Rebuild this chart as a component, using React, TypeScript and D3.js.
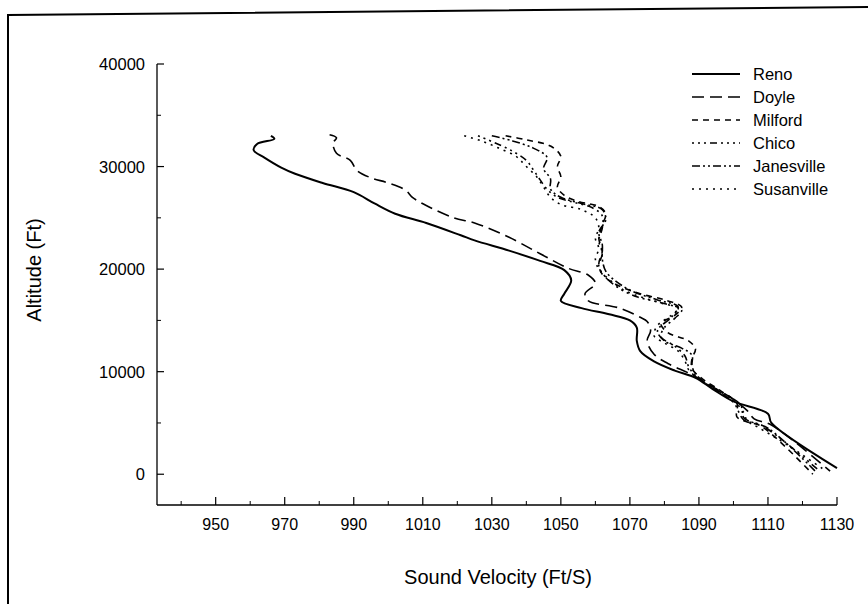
import * as d3 from "d3";

type Pt = [number, number]; // [velocity ft/s, altitude ft]

const renoPts: Pt[] = [
  [966, 33000], [967, 32700], [962, 32200], [961, 31600], [964, 30900], [969, 29900],
  [973, 29300], [981, 28400], [990, 27500], [996, 26400], [1002, 25400], [1011, 24500],
  [1021, 23300], [1025, 22800], [1035, 21800], [1044, 20800], [1051, 19900], [1053, 18900],
  [1051, 17600], [1050, 16900], [1056, 16200], [1064, 15600], [1070, 15000], [1072, 14300],
  [1072, 13000], [1073, 12000], [1077, 11000], [1083, 10100], [1089, 9400], [1094, 8300],
  [1100, 7100], [1110, 5900], [1111, 5000], [1130, 600],
];

const doylePts: Pt[] = [
  [983, 33100], [985, 32800], [984, 32300], [985, 31300], [989, 30600], [991, 29600],
  [995, 28900], [1000, 28400], [1005, 27700], [1007, 27000], [1011, 26200], [1019, 25000],
  [1025, 24500], [1035, 23100], [1044, 21500], [1052, 20100], [1058, 19400], [1060, 18600],
  [1057, 17600], [1058, 16900], [1067, 16200], [1073, 15300], [1075, 14900], [1076, 14000],
  [1075, 13000], [1077, 11700], [1081, 10800], [1088, 9700], [1094, 8500], [1100, 7300],
  [1104, 6200], [1106, 5400], [1111, 4800], [1128, 300],
];

const milfordPts: Pt[] = [
  [1034, 33000], [1040, 32600], [1047, 32000], [1050, 31000], [1049, 30000], [1050, 29000],
  [1049, 28000], [1051, 27200], [1055, 26600], [1061, 26100], [1063, 25400], [1062, 24300],
  [1061, 23000], [1062, 21800], [1061, 20500], [1062, 19500], [1066, 18500], [1073, 17600],
  [1080, 17000], [1085, 16300], [1083, 15500], [1079, 14700], [1081, 13800], [1087, 13000],
  [1089, 12200], [1088, 11300], [1088, 10300], [1091, 9300], [1096, 8200], [1101, 6900],
  [1101, 5600], [1104, 5100], [1108, 4700], [1123, 0],
];

const chicoPts: Pt[] = [
  [1026, 33000], [1031, 32300], [1036, 31500], [1040, 30600], [1042, 29700], [1044, 28700],
  [1046, 27800], [1049, 27000], [1054, 26500], [1059, 26000], [1062, 25200], [1062, 24000],
  [1061, 22800], [1062, 21500], [1061, 20300], [1063, 19200], [1067, 18100], [1072, 17300],
  [1078, 16800], [1085, 16000], [1083, 15200], [1080, 14300], [1079, 13400], [1083, 12500],
  [1086, 11500], [1087, 10500], [1089, 9600], [1094, 8400], [1100, 7000], [1103, 5300],
  [1108, 4800], [1125, 300],
];

const janesvillePts: Pt[] = [
  [1030, 33000], [1036, 32500], [1042, 31800], [1046, 30900], [1045, 29800], [1047, 28800],
  [1047, 27800], [1050, 27000], [1056, 26400], [1062, 25800], [1063, 24800], [1061, 23600],
  [1062, 22400], [1062, 21000], [1063, 19800], [1066, 18800], [1071, 17800], [1078, 17000],
  [1084, 16300], [1082, 15300], [1078, 14000], [1080, 13000], [1085, 12300], [1088, 11600],
  [1088, 10600], [1089, 9800], [1093, 8600], [1102, 6800], [1103, 5500], [1106, 5000],
  [1110, 4500], [1124, 200],
];

const susanvillePts: Pt[] = [
  [1022, 33000], [1027, 32500], [1032, 31800], [1037, 31000], [1040, 30000], [1043, 29000],
  [1045, 28000], [1047, 27000], [1050, 26300], [1056, 25800], [1060, 25000], [1061, 24000],
  [1060, 23000], [1061, 22000], [1060, 21000], [1061, 20000], [1064, 19000], [1068, 18000],
  [1074, 17200], [1080, 16600], [1084, 16200], [1082, 15500], [1078, 14500], [1077, 13500],
  [1080, 12800], [1084, 12000], [1086, 11000], [1087, 10200], [1090, 9300], [1095, 8300],
  [1100, 7200], [1103, 6000], [1104, 5200], [1107, 4600], [1115, 3000], [1126, 500],
];

const seriesNames = ["Reno", "Doyle", "Milford", "Chico", "Janesville", "Susanville"];
const seriesData = [renoPts, doylePts, milfordPts, chicoPts, janesvillePts, susanvillePts];
const dashes = ["none", "12,6", "6,5", "2,4,2,4,2,4,7,4", "8,3,2,3,2,3", "2,5"];
const widths = [2, 1.6, 1.6, 1.6, 1.6, 1.6];

const xMajorTicks = [950, 970, 990, 1010, 1030, 1050, 1070, 1090, 1110, 1130];
const xMinorTicks = [940, 960, 980, 1000, 1020, 1040, 1060, 1080, 1100, 1120];
const yMajorTicks = [0, 10000, 20000, 30000, 40000];
const yMinorTicks = [5000, 15000, 25000, 35000];

const W = 868;
const H = 604;
const font = "Arial, 'Liberation Sans', Helvetica, sans-serif";

export default function App() {
  const x = d3.scaleLinear().domain([933, 1130]).range([157, 837]);
  const y = d3.scaleLinear().domain([-3000, 40000]).range([505, 64]);
  const line = d3
    .line<Pt>()
    .x((d) => x(d[0]))
    .y((d) => y(d[1]))
    .curve(d3.curveCatmullRom.alpha(0.5));

  const legendY = (i: number) => 74 + i * 23;

  return (
    <svg
      width={W}
      height={H}
      style={{ position: "absolute", left: 0, top: 0, background: "#fff" }}
      fontFamily={font}
    >
      {/* scanned page frame */}
      <path d={`M8,${H} L8,15 L${W},7`} fill="none" stroke="#000" strokeWidth={2} />

      {/* axes */}
      <line x1={x(933)} x2={x(1130)} y1={y(-3000)} y2={y(-3000)} stroke="#000" strokeWidth={1.3} />
      <line x1={x(933)} x2={x(933)} y1={y(-3000)} y2={y(40000)} stroke="#000" strokeWidth={1.3} />

      {xMajorTicks.map((t) => (
        <g key={"xm" + t}>
          <line x1={x(t)} x2={x(t)} y1={y(-3000)} y2={y(-3000) - 8} stroke="#000" strokeWidth={1.2} />
          <text x={x(t)} y={530} textAnchor="middle" fontSize={16}>
            {t}
          </text>
        </g>
      ))}
      {xMinorTicks.map((t) => (
        <line key={"xn" + t} x1={x(t)} x2={x(t)} y1={y(-3000)} y2={y(-3000) - 4} stroke="#000" strokeWidth={1} />
      ))}
      {yMajorTicks.map((t) => (
        <g key={"ym" + t}>
          <line x1={x(933)} x2={x(933) + 7} y1={y(t)} y2={y(t)} stroke="#000" strokeWidth={1.2} />
          <text x={145} y={y(t) + 6} textAnchor="end" fontSize={16.5}>
            {t}
          </text>
        </g>
      ))}
      {yMinorTicks.map((t) => (
        <line key={"yn" + t} x1={x(933)} x2={x(933) + 4} y1={y(t)} y2={y(t)} stroke="#000" strokeWidth={1} />
      ))}

      <text x={498} y={584} textAnchor="middle" fontSize={20}>
        Sound Velocity (Ft/S)
      </text>
      <text
        transform={`translate(41,270) rotate(-90)`}
        textAnchor="middle"
        fontSize={20}
      >
        Altitude (Ft)
      </text>

      {/* curves */}
      {seriesData.map((pts, i) => (
        <path
          key={seriesNames[i]}
          d={line(pts) ?? ""}
          fill="none"
          stroke="#000"
          strokeWidth={widths[i]}
          strokeDasharray={dashes[i]}
          strokeLinejoin="round"
        />
      ))}

      {/* legend */}
      {seriesNames.map((name, i) => (
        <g key={"lg" + name}>
          <line
            x1={692}
            x2={740}
            y1={legendY(i)}
            y2={legendY(i)}
            stroke="#000"
            strokeWidth={widths[i]}
            strokeDasharray={dashes[i]}
          />
          <text x={753} y={legendY(i) + 6} fontSize={16.5}>
            {name}
          </text>
        </g>
      ))}
    </svg>
  );
}
